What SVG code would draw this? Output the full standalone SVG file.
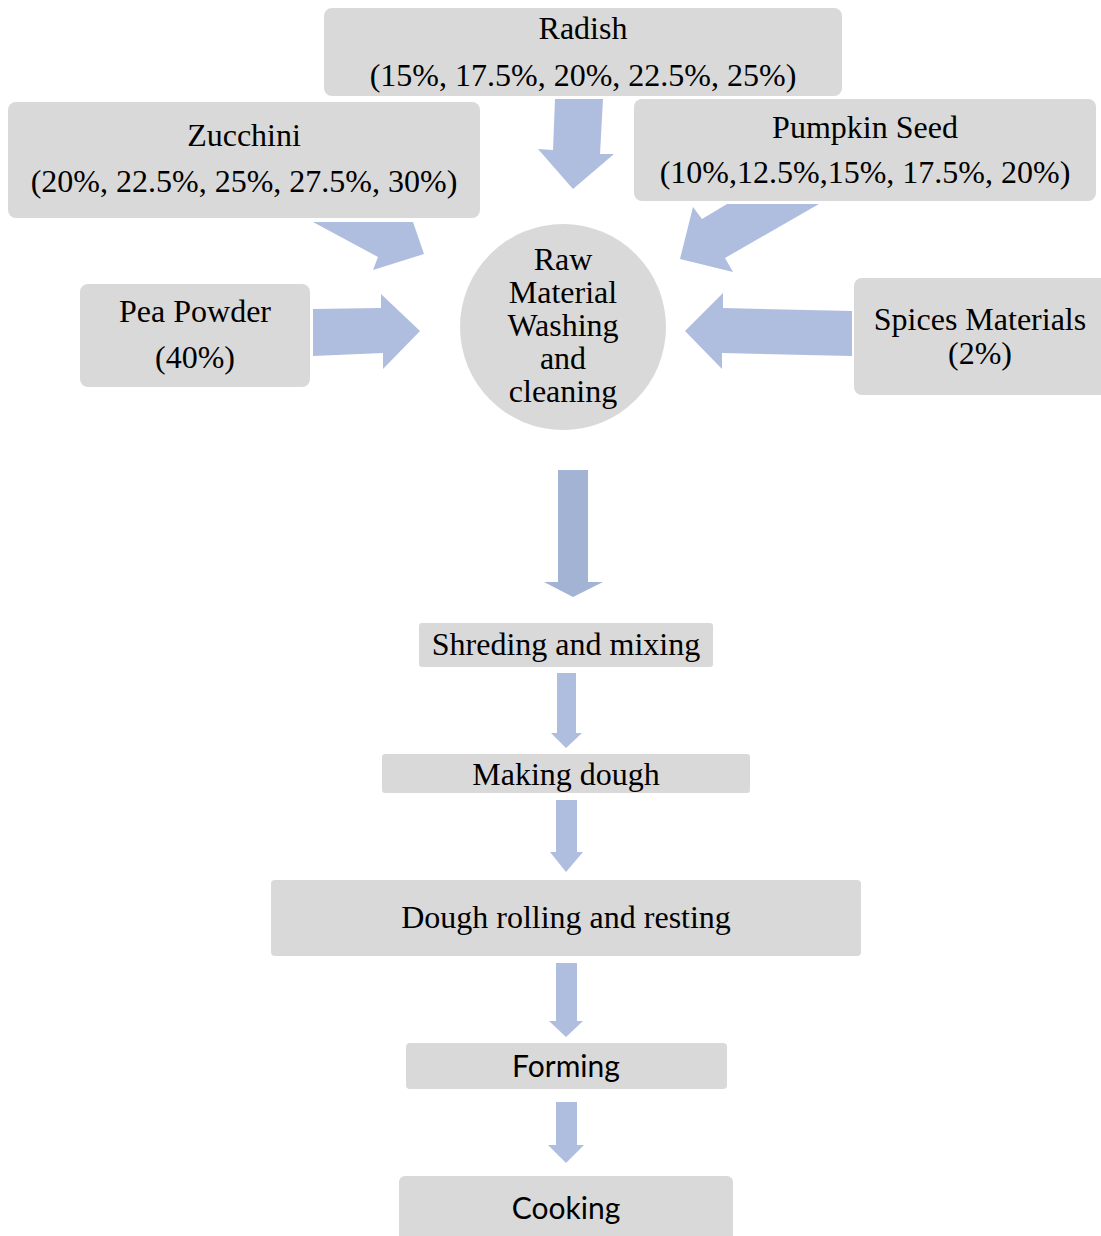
<svg xmlns="http://www.w3.org/2000/svg" width="1101" height="1236" viewBox="0 0 1101 1236">
<style>
.box{fill:#D9D9D9;}
.arr{fill:#AFBDDF;}
.t{font-family:"Liberation Serif","Times New Roman",serif;font-size:32px;fill:#000;text-anchor:middle;}
.s{font-family:Lato,"Open Sans",sans-serif;font-size:30px;fill:#000;text-anchor:middle;}
</style>
<rect width="1101" height="1236" fill="#fff"/>
<g id="connectors">
<polygon class="arr" points="555,99 603,99 600,154 614,154 573,189 538,149 553,150"/>
<polygon class="arr" points="313,222 413,222 424,254 373,270 378,257"/>
<polygon class="arr" points="727,204 819,204 725,258 733,272 680,259 693,207 702,219"/>
<polygon class="arr" points="313,309 381,308 381,294 420,331 383,369 383,353 313,356"/>
<polygon class="arr" points="852,311 723,308 723,293 685,331 722,369 722,353 852,356"/>
<polygon fill="#A3B3D3" points="558,470 588,470 588,582 603,582 573,597 544,582 558,582"/>
<polygon class="arr" points="557,673 576,673 576,733 582,733 566,748 551,733 557,733"/>
<polygon class="arr" points="556,800 577,800 577,852 583,852 566,872 550,852 556,852"/>
<polygon class="arr" points="556,963 577,963 577,1021 583,1021 566,1037 549,1021 556,1021"/>
<polygon class="arr" points="556,1102 577,1102 577,1145 584,1145 566,1163 548,1145 556,1145"/>
</g>
<g id="radish">
<rect class="box" x="324" y="8" width="518" height="88" rx="8"/>
<text class="t" x="583" y="39">Radish</text>
<text class="t" x="583" y="86">(15%, 17.5%, 20%, 22.5%, 25%)</text>
</g>
<g id="zucchini">
<rect class="box" x="8" y="102" width="472" height="116" rx="8"/>
<text class="t" x="244" y="146">Zucchini</text>
<text class="t" x="244" y="192">(20%, 22.5%, 25%, 27.5%, 30%)</text>
</g>
<g id="pumpkin">
<rect class="box" x="634" y="99" width="462" height="102" rx="8"/>
<text class="t" x="865" y="138">Pumpkin Seed</text>
<text class="t" x="865" y="183">(10%,12.5%,15%, 17.5%, 20%)</text>
</g>
<g id="pea">
<rect class="box" x="80" y="284" width="230" height="103" rx="8"/>
<text class="t" x="195" y="322">Pea Powder</text>
<text class="t" x="195" y="368">(40%)</text>
</g>
<g id="spices">
<rect class="box" x="854" y="278" width="260" height="117" rx="8"/>
<text class="t" x="980" y="330">Spices Materials</text>
<text class="t" x="980" y="364">(2%)</text>
</g>
<g id="raw">
<circle class="box" cx="563" cy="327" r="103"/>
<text class="t" x="563" y="270">Raw</text>
<text class="t" x="563" y="303">Material</text>
<text class="t" x="563" y="336">Washing</text>
<text class="t" x="563" y="369">and</text>
<text class="t" x="563" y="402">cleaning</text>
</g>
<g id="shreding">
<rect class="box" x="419" y="623" width="294" height="44" rx="3"/>
<text class="t" x="566" y="655">Shreding and mixing</text>
</g>
<g id="dough">
<rect class="box" x="382" y="754" width="368" height="39" rx="3"/>
<text class="t" x="566" y="785">Making dough</text>
</g>
<g id="rolling">
<rect class="box" x="271" y="880" width="590" height="76" rx="4"/>
<text class="t" x="566" y="928">Dough rolling and resting</text>
</g>
<g id="forming">
<rect class="box" x="406" y="1043" width="321" height="46" rx="4"/>
<text class="s" x="566" y="1077">Forming</text>
</g>
<g id="cooking">
<rect class="box" x="399" y="1176" width="334" height="80" rx="6"/>
<text class="s" x="566" y="1219">Cooking</text>
</g>
</svg>
